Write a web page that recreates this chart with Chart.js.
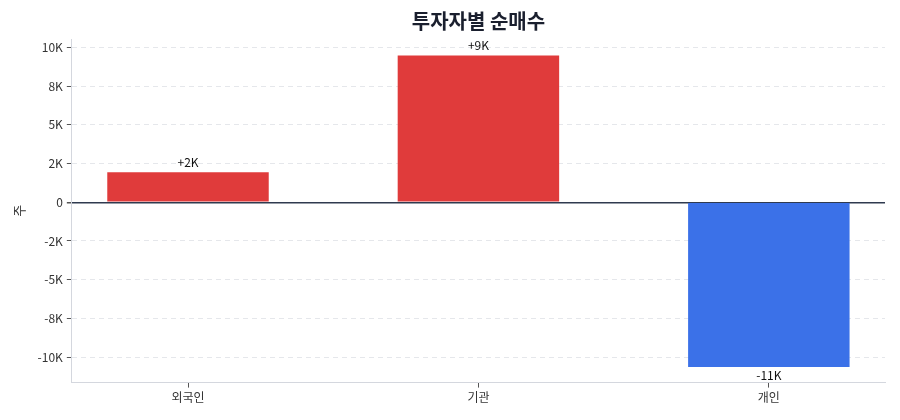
<!DOCTYPE html>
<html>
<head>
<meta charset="utf-8">
<script src="https://cdn.jsdelivr.net/npm/chart.js@4"></script>
<style>
  html, body { margin: 0; padding: 0; background: #fff; }
  #wrap { width: 900px; height: 420px; }
</style>
</head>
<body>
<div id="wrap"><canvas id="net-buy"></canvas></div>
<script>
// data
const categories = ['외국인', '기관', '개인'];
const netBuy = [1940, 9480, -10650];
const yTickValues = [-10000, -7500, -5000, -2500, 0, 2500, 5000, 7500, 10000];
const yTickLabels = ['-10K', '-8K', '-5K', '-2K', '0', '2K', '5K', '8K', '10K'];

const FONT = "'Noto Sans CJK KR', 'Noto Sans', sans-serif";

// round half to even, like the source labels (2.5K -> 2K, 7.5K -> 8K)
function fmtK(v) {
    if (v === 0) return '0';
    const k = v / 1000;
    let r = Math.round(k);
    if (Math.abs(k - Math.trunc(k)) === 0.5) r = 2 * Math.round(k / 2);
    return r + 'K';
}

// value labels above / below each bar
const barLabels = {
    id: 'barLabels',
    afterDatasetsDraw(chart) {
        const ctx = chart.ctx;
        const meta = chart.getDatasetMeta(0);
        ctx.save();
        ctx.font = '12px ' + FONT;
        ctx.fillStyle = '#111';
        ctx.textAlign = 'center';
        meta.data.forEach((bar, i) => {
            const v = netBuy[i];
            const txt = (v > 0 ? '+' : '') + fmtK(v);
            if (v >= 0) {
                ctx.textBaseline = 'bottom';
                ctx.fillText(txt, bar.x, bar.y - 4);
            } else {
                ctx.textBaseline = 'top';
                ctx.fillText(txt, bar.x, bar.y + 2);
            }
        });
        ctx.restore();
    }
};

const ctx = document.getElementById('net-buy').getContext('2d');
const chart = new Chart(ctx, {
    type: 'bar',
    data: {
        datasets: [{
            data: netBuy.map((v, i) => ({ x: i, y: v })),
            backgroundColor: netBuy.map(v => v >= 0 ? '#e03b3b' : '#3b71e8'),
            borderWidth: 0,
            categoryPercentage: 1,
            barPercentage: 0.556
        }]
    },
    options: {
        responsive: true,
        maintainAspectRatio: false,
        animation: false,
        layout: { padding: { left: 11, right: 15, bottom: 12 } },
        plugins: {
            legend: { display: false },
            tooltip: { enabled: false },
            title: {
                display: true,
                text: '투자자별 순매수',
                fullSize: false,
                color: '#1a1f2e',
                font: { family: FONT, size: 20, weight: 'bold' },
                padding: { top: 9, bottom: 6 }
            }
        },
        scales: {
            x: {
                type: 'linear',
                offset: false,
                min: -0.4,
                max: 2.4,
                afterBuildTicks: axis => {
                    axis.ticks = categories.map((c, i) => ({ value: i }));
                },
                ticks: {
                    callback: v => categories[v],
                    color: '#333',
                    font: { family: FONT, size: 12 },
                    padding: 3
                },
                grid: {
                    offset: false,
                    drawOnChartArea: false,
                    drawTicks: true,
                    tickLength: 5,
                    tickColor: '#555'
                },
                border: { display: true, color: '#d4d7de', width: 1 }
            },
            y: {
                min: -11650,
                max: 10550,
                afterBuildTicks: axis => {
                    axis.ticks = yTickValues.map(v => ({ value: v }));
                },
                ticks: {
                    callback: v => yTickLabels[yTickValues.indexOf(v)],
                    color: '#333',
                    font: { family: FONT, size: 12 },
                    padding: 4
                },
                grid: {
                    color: c => c.tick && c.tick.value === 0 ? '#2f3a4f' : '#e5e7eb',
                    lineWidth: c => c.tick && c.tick.value === 0 ? 1.5 : 1,
                    tickLength: 5,
                    tickColor: '#555'
                },
                border: {
                    display: true,
                    color: '#d4d7de',
                    width: 1,
                    dash: c => c.tick && c.tick.value === 0 ? [] : [5, 4]
                },
                title: {
                    display: true,
                    text: '주',
                    color: '#333',
                    font: { family: FONT, size: 13 },
                    padding: { top: 0, bottom: 7 }
                }
            }
        }
    },
    plugins: [barLabels]
});
</script>
</body>
</html>
